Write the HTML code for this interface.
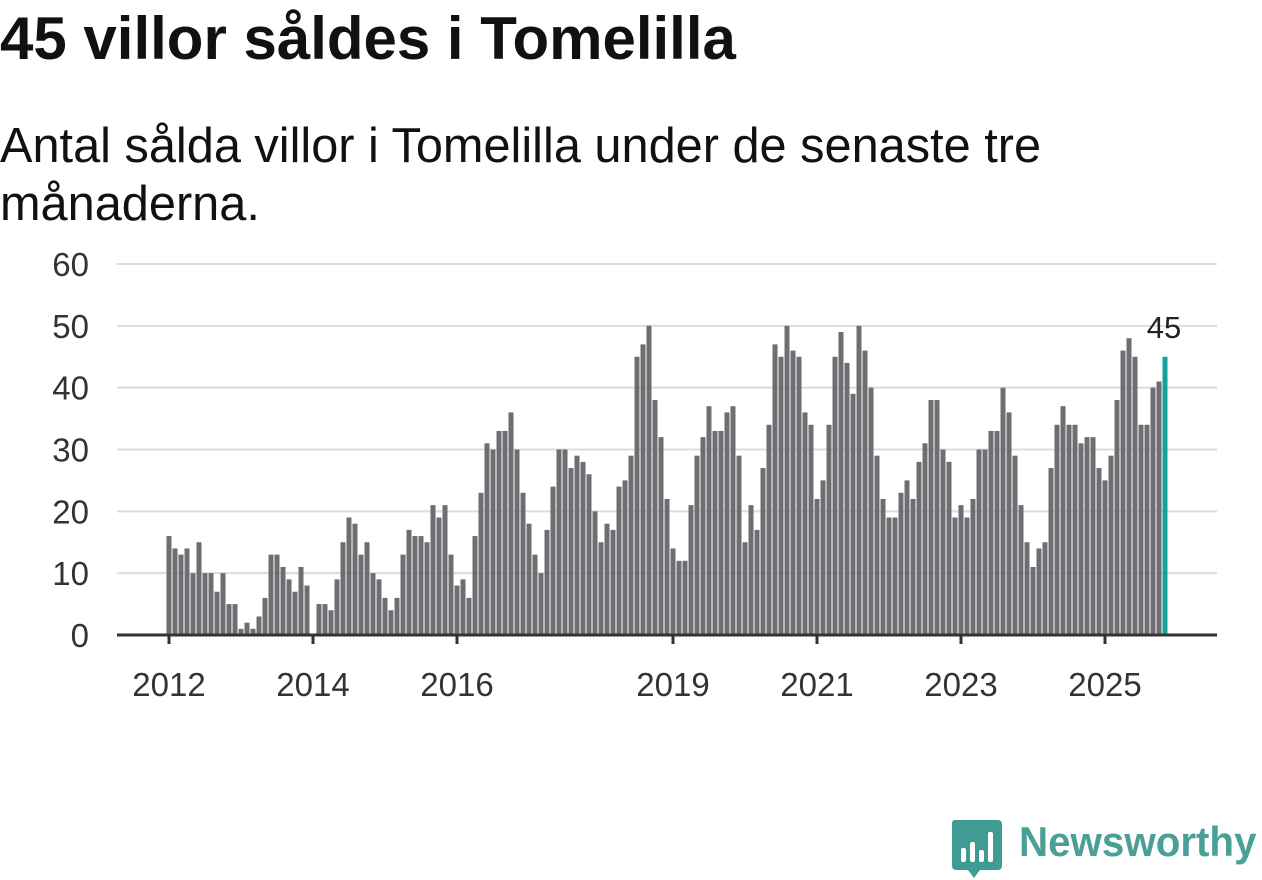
<!DOCTYPE html>
<html><head><meta charset="utf-8">
<style>
body{margin:0;width:1262px;height:879px;background:#fff;overflow:hidden;font-family:"Liberation Sans",sans-serif;position:relative}
h1{position:absolute;left:0;top:4px;margin:0;font-size:60px;line-height:70px;font-weight:bold;color:#111;white-space:nowrap}
.sub{position:absolute;left:0;top:117px;margin:0;font-size:48.7px;line-height:58px;color:#111;width:1080px}
svg{position:absolute;left:0;top:0}
</style></head><body>
<h1>45 villor såldes i Tomelilla</h1>
<p class="sub">Antal sålda villor i Tomelilla under de senaste tre månaderna.</p>
<svg id="chart" width="1262" height="879"></svg>
<script>
const yTicks=[0,10,20,30,40,50,60];
const xTickYears=[2012,2014,2016,2019,2021,2023,2025];
const startYear=2012;
const values2012=[16,14,13,14,10,15,10,10,7,10,5,5];
const values2013=[1,2,1,3,6,13,13,11,9,7,11,8];
const values2014=[0,5,5,4,9,15,19,18,13,15,10,9];
const values2015=[6,4,6,13,17,16,16,15,21,19,21,13];
const values2016=[8,9,6,16,23,31,30,33,33,36,30,23];
const values2017=[18,13,10,17,24,30,30,27,29,28,26,20];
const values2018=[15,18,17,24,25,29,45,47,50,38,32,22];
const values2019=[14,12,12,21,29,32,37,33,33,36,37,29];
const values2020=[15,21,17,27,34,47,45,50,46,45,36,34];
const values2021=[22,25,34,45,49,44,39,50,46,40,29,22];
const values2022=[19,19,23,25,22,28,31,38,38,30,28,19];
const values2023=[21,19,22,30,30,33,33,40,36,29,21,15];
const values2024=[11,14,15,27,34,37,34,34,31,32,32,27];
const values2025=[25,29,38,46,48,45,34,34,40,41,45];
const values=[].concat(values2012,values2013,values2014,values2015,values2016,values2017,values2018,values2019,values2020,values2021,values2022,values2023,values2024,values2025);

const NS="http://www.w3.org/2000/svg";
const svg=document.getElementById('chart');
const y0=635,yTop=264,yMax=60,x0=169,pxMonth=6;
const yS=v=>y0-(y0-yTop)*v/yMax;
const xS=i=>x0+i*pxMonth;
function mk(t,a){const e=document.createElementNS(NS,t);for(const k in a)e.setAttribute(k,a[k]);svg.appendChild(e);return e;}
yTicks.forEach(t=>{
  if(t>0){const g=mk('line',{x1:117,x2:1217,y1:yS(t),y2:yS(t),stroke:'#dcdcdc','stroke-width':2});
  
  }
  const l=mk('text',{x:89,y:yS(t)+12,'text-anchor':'end','font-size':33,fill:'#333','font-family':'Liberation Sans, sans-serif'});
  l.textContent=t;
  
  
});
values.forEach((v,i)=>{
  const last=i===values.length-1;
  const r=mk('rect',{x:xS(i)-2.5,y:yS(v),width:5,height:y0-yS(v),fill:last?'#13a39a':'#6e6d72'});
  
  
});
const li=values.length-1;
const vl=mk('text',{x:xS(li)-1,y:yS(values[li])-19,'text-anchor':'middle','font-size':31,fill:'#222','font-family':'Liberation Sans, sans-serif'});
vl.textContent=values[li];


const ax=mk('line',{x1:117,x2:1217,y1:y0,y2:y0,stroke:'#333','stroke-width':3});


xTickYears.forEach(yr=>{
  const x=xS((yr-startYear)*12);
  const tk=mk('line',{x1:x,x2:x,y1:y0,y2:y0+9,stroke:'#333','stroke-width':3});
  
  
  const l=mk('text',{x:x,y:696,'text-anchor':'middle','font-size':33,fill:'#333','font-family':'Liberation Sans, sans-serif'});
  l.textContent=yr;
  
  
});
</script>
<svg width="60" height="62" style="left:950px;top:818px">
<path d="M4 2h44a4 4 0 0 1 4 4v42a4 4 0 0 1-4 4H30l-6 8-6-8H6a4 4 0 0 1-4-4V6a4 4 0 0 1 2-4z" fill="#3f9c95"/>
<rect x="11" y="30" width="5" height="14" rx="2" fill="#fff"/><rect x="20" y="24" width="5" height="20" rx="2" fill="#fff"/><rect x="29" y="32" width="5" height="12" rx="2" fill="#fff"/><rect x="38" y="14" width="5" height="30" rx="2" fill="#fff"/>
</svg>
<div style="position:absolute;left:1019px;top:818px;font-size:42px;font-weight:bold;color:#4a9f98;transform:scaleX(0.96);transform-origin:0 0;white-space:nowrap">Newsworthy</div>
</body></html>
